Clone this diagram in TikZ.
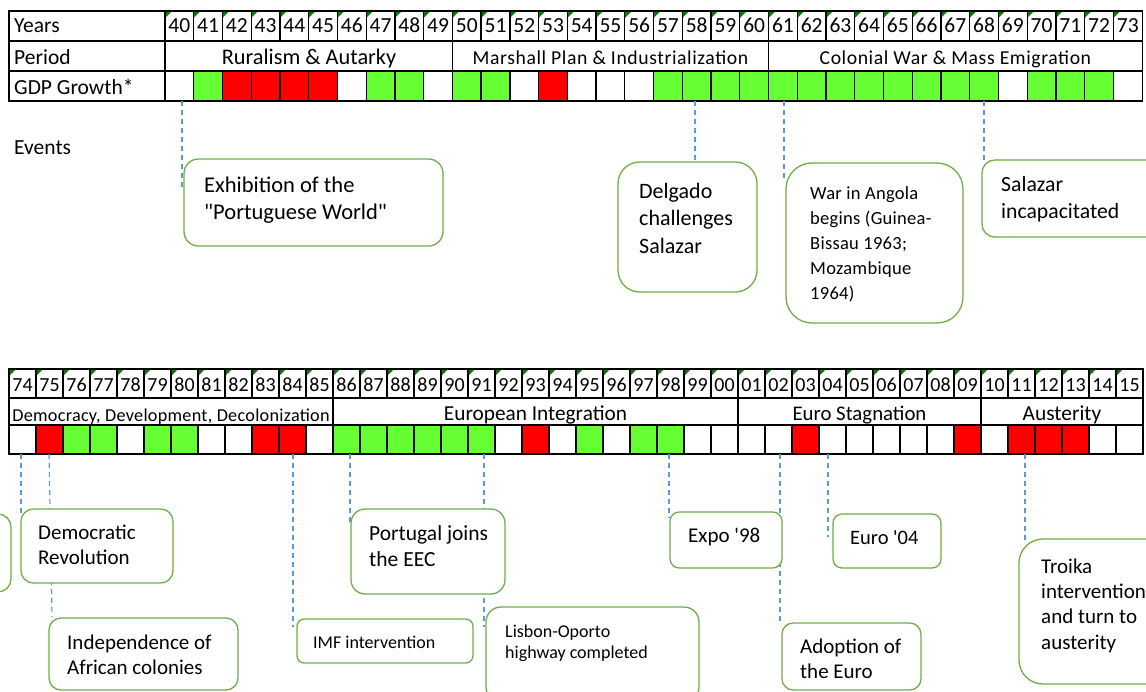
\documentclass[tikz,border=0pt]{standalone}
\usepackage{fontspec}
\setmainfont{Carlito}
\newfontfamily\spacedA[LetterSpace=3]{Carlito}
\newfontfamily\spacedB[LetterSpace=1.5]{Carlito}
\definecolor{cw}{HTML}{FFFFFF}
\definecolor{cg}{HTML}{66FF33}
\definecolor{cr}{HTML}{FF0000}
\definecolor{trigreen}{HTML}{008000}
\definecolor{boxgreen}{HTML}{70AD47}
\definecolor{dashblue}{HTML}{5B9BD5}
\newcommand\fs[2]{\fontsize{#1}{#2}\selectfont}
\newcommand\ml[1]{\begin{tabular}[t]{@{}l@{}}#1\end{tabular}}
\newcommand\evb[6]{\node[evbox, rounded corners=#6pt, minimum width={#3-#1}, minimum height={#4-#2}] (#5) at ({(#1+#3)/2},{(#2+#4)/2}) {};}
\begin{document}
\begin{tikzpicture}[x=1pt,y=-1pt,
  grid/.style={line width=1.3pt,black},
  yr/.style={anchor=base,inner sep=0pt,font=\fs{21.5}{25}},
  yrb/.style={anchor=base,inner sep=0pt,font=\fs{20}{24}},
  lab/.style={anchor=base west,inner sep=0pt,font=\fs{21.5}{25}},
  per/.style={anchor=base,inner sep=0pt},
  evbox/.style={draw=boxgreen,line width=1.3pt,fill=white,inner sep=0pt},
  evtext/.style={anchor=base west,inner sep=0pt},
  evline/.style={draw=dashblue,line width=1.2pt,dash pattern=on 5pt off 4pt},
  tri/.style={fill=trigreen}]
\useasboundingbox (0,0) rectangle (1146,691);
\clip (0,0) rectangle (1146,691);

% ---------------- top table ----------------
\foreach \c [count=\i from 0] in {w,g,r,r,r,r,w,g,g,w,g,g,w,r,w,w,w,g,g,g,g,g,g,g,g,g,g,g,g,w,g,g,g,w}
  \fill[fill=c\c] ({165+\i*28.74},71) rectangle ({165+(\i+1)*28.74},101);
\foreach \y [count=\i from 0] in {40,...,73} {
  \fill[tri] ({165+\i*28.74},11) -- ++(7,0) -- ++(-7,7) -- cycle;
  \node[yr] (ty\y) at ({165+(\i+0.5)*28.74},32) {\y};
}
\draw[grid] (9,11) rectangle (1142.2,101);
\draw[grid] (9,41) -- (1142.2,41) (9,71) -- (1142.2,71) (165,11) -- (165,101);
\foreach \i in {1,...,33}
  \draw[grid] ({165+\i*28.74},11) -- ++(0,30) ({165+\i*28.74},71) -- ++(0,30);
\draw[grid] (452.4,41) -- (452.4,71) (768.5,41) -- (768.5,71);
\node[lab] (lyears) at (14,32) {Years};
\node[lab] (lperiod) at (14,64.5) {Period};
\node[lab] (lgdp) at (14,94.5) {GDP Growth*};
\node[per, font=\fs{22.3}{26}] (p1) at (309,64.3) {Ruralism \& Autarky};
\node[per, font=\spacedA\fs{19.7}{24}] (p2) at (610.5,64.3) {Marshall Plan \& Industrialization};
\node[per, font=\spacedA\fs{19.7}{24}] (p3) at (955.4,64.3) {Colonial War \& Mass Emigration};
\node[lab] (events) at (14,154.3) {Events};

% ---------------- bottom table ----------------
\foreach \c [count=\i from 0] in {w,r,g,g,w,g,g,w,w,r,r,w,g,g,g,g,g,g,w,r,w,g,w,g,g,w,w,w,w,r,w,w,w,w,w,r,w,r,r,r,w,w}
  \fill[fill=c\c] ({9+\i*27},425) rectangle ({9+(\i+1)*27},454);
\foreach \y [count=\i from 0] in {74,75,76,77,78,79,80,81,82,83,84,85,86,87,88,89,90,91,92,93,94,95,96,97,98,99,00,01,02,03,04,05,06,07,08,09,10,11,12,13,14,15} {
  \fill[tri] ({9+\i*27},369) -- ++(7,0) -- ++(-7,7) -- cycle;
  \node[yrb] (by\i) at ({9+(\i+0.5)*27},391.7) {\y};
}
\draw[grid] (9,369) rectangle (1143,454);
\draw[grid] (9,398) -- (1143,398) (9,425) -- (1143,425);
\foreach \i in {1,...,41}
  \draw[grid] ({9+\i*27},369) -- ++(0,29) ({9+\i*27},425) -- ++(0,29);
\draw[grid] (333,398) -- (333,425) (738,398) -- (738,425) (981,398) -- (981,425);
\node[per, font=\spacedB\fs{18.2}{22}] (q1) at (171,421) {Democracy, Development, Decolonization};
\node[per, font=\fs{21.3}{25}] (q2) at (535.5,420) {European Integration};
\node[per, font=\fs{20.8}{25}] (q3) at (859.5,420) {Euro Stagnation};
\node[per, font=\fs{21.4}{25}] (q4) at (1062,420) {Austerity};

% ---------------- dashed leader lines ----------------
\coordinate (a1) at (182,101);  \coordinate (b1) at (182,189);
\coordinate (a2) at (695,101);  \coordinate (b2) at (695,161);
\coordinate (a3) at (784,101);  \coordinate (b3) at (784,180);
\coordinate (a4) at (984,101);  \coordinate (b4) at (984,160);
\coordinate (a5) at (21,454);   \coordinate (b5) at (21,515);
\coordinate (a6) at (49,454);   \coordinate (b6) at (52,617);
\coordinate (a7) at (293,454);  \coordinate (b7) at (293,627);
\coordinate (a8) at (350,454);  \coordinate (b8) at (350,523);
\coordinate (a9) at (484,454);  \coordinate (b9) at (484,627);
\coordinate (a10) at (669,454); \coordinate (b10) at (669,518);
\coordinate (a11) at (780,454); \coordinate (b11) at (780,625);
\coordinate (a12) at (828,454); \coordinate (b12) at (828,537);
\coordinate (a13) at (1025,454);\coordinate (b13) at (1025,543);
\foreach \k in {1,...,13} \draw[evline] (a\k) -- (b\k);

% ---------------- event boxes ----------------
\evb{184}{159}{443}{246}{exh}{14.5}
\evb{618}{162}{757}{292}{delg}{21.7}
\evb{786}{163}{963}{323}{war}{26}
\evb{982}{160}{1170}{237}{sal}{12.8}
\evb{-100}{514}{11}{592}{cut}{13}
\evb{21}{509}{173}{583}{dem}{12.3}
\evb{49}{618}{238}{690}{ind}{12}
\evb{297}{619}{473}{663}{imf}{7.3}
\evb{351}{509}{505}{594}{port}{14.2}
\evb{486}{607}{699}{702}{lis}{15}
\evb{670}{512}{782}{568}{expo}{9.3}
\evb{782}{623}{921}{690}{adop}{11.3}
\evb{833}{514}{941}{568}{eur}{9}
\evb{1019}{539}{1180}{684}{troi}{24}

% ---------------- event texts ----------------
\node[evtext, font=\fs{22.5}{27}] (exht) at (204,192) {\ml{Exhibition of the\\\textquotedbl Portuguese World\textquotedbl}};
\node[evtext, font=\fs{22}{27.5}] (delgt) at (639,198.3) {\ml{Delgado\\challenges\\Salazar}};
\node[evtext, font=\spacedB\fs{18.5}{25}] (wart) at (810,199) {\ml{War in Angola\\begins (Guinea-\\Bissau 1963;\\Mozambique\\1964)}};
\node[evtext, font=\fs{21.7}{26.5}] (salt) at (1001,191.7) {\ml{Salazar\\incapacitated}};
\node[evtext, font=\fs{21}{25}] (demt) at (38,539.3) {\ml{Democratic\\Revolution}};
\node[evtext, font=\fs{21}{25}] (indt) at (67,649.3) {\ml{Independence of\\African colonies}};
\node[evtext, font=\fs{18}{22}] (imft) at (313,648.3) {IMF intervention};
\node[evtext, font=\fs{21.5}{26}] (portt) at (369,540) {\ml{Portugal joins\\the EEC}};
\node[evtext, font=\fs{18}{21}] (list) at (505,637.3) {\ml{Lisbon-Oporto\\highway completed}};
\node[evtext, font=\fs{21}{25}] (expot) at (688,542.7) {Expo \textquotesingle98};
\node[evtext, font=\fs{21}{25}] (adopt) at (800,653.3) {\ml{Adoption of\\the Euro}};
\node[evtext, font=\fs{20.5}{25}] (eurt) at (850,544) {Euro \textquotesingle04};
\node[evtext, font=\fs{21}{25.3}] (troit) at (1041,573.3) {\ml{Troika\\intervention\\and turn to\\austerity}};
\end{tikzpicture}
\end{document}
